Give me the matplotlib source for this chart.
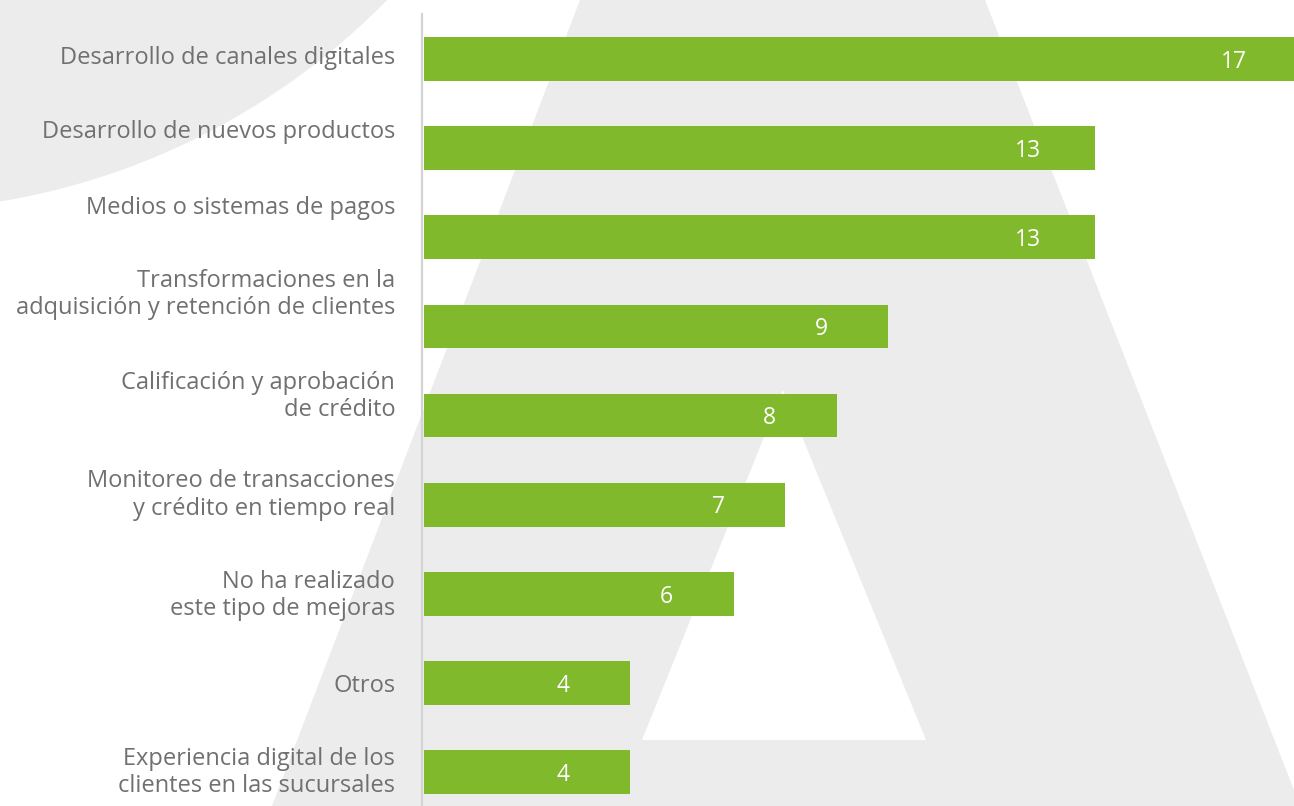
"""Horizontal bar chart: mejoras realizadas por las entidades."""

import matplotlib.pyplot as plt
from matplotlib.patches import Circle, Polygon

# data
categories = [
    "Desarrollo de canales digitales",
    "Desarrollo de nuevos productos",
    "Medios o sistemas de pagos",
    "Transformaciones en la\nadquisición y retención de clientes",
    "Calificación y aprobación\nde crédito",
    "Monitoreo de transacciones\ny crédito en tiempo real",
    "No ha realizado\neste tipo de mejoras",
    "Otros",
    "Experiencia digital de los\nclientes en las sucursales",
]
values = [17, 13, 13, 9, 8, 7, 6, 4, 4]

# vertical nudges of the category labels (in bar slots)
label_offsets = [-0.01, -0.18, -0.33, -0.36, -0.21, -0.11, 0.02, 0.03, 0.0]

GREEN = "#80b92b"
BG_GRAY = "#ececec"
TEXT_GRAY = "#707070"
W, H = 1294, 806

plt.rcParams["font.family"] = ["Open Sans", "DejaVu Sans"]

fig = plt.figure(figsize=(W / 100, H / 100), dpi=100)
fig.patch.set_facecolor("white")

# background decoration in pixel space (y down): big circle and "A" shape
bg = fig.add_axes([0, 0, 1, 1], zorder=0)
bg.set_xlim(0, W)
bg.set_ylim(H, 0)
bg.axis("off")
bg.add_patch(Circle((-115, -492), 703, facecolor=BG_GRAY, edgecolor="none"))
bg.add_patch(Polygon([(580, 0), (985, 0), (1294, 790), (1294, 806), (272, 806)],
                     closed=True, facecolor=BG_GRAY, edgecolor="none"))
bg.add_patch(Polygon([(783, 390), (926, 740), (642, 740)], closed=True,
                     facecolor="white", edgecolor="none"))

ax = fig.add_axes([422 / W, 0, 1 - 422 / W, 1 - 14 / H], zorder=1)
ax.patch.set_alpha(0)

ypos = list(range(len(values)))
ax.barh(ypos, values, height=0.49, color=GREEN, zorder=3)

ax.set_xlim(-0.04, 16.86)
ax.set_ylim(8.38, -0.505)

for y, v, cat, off in zip(ypos, values, categories, label_offsets):
    ax.text(v - 1.3, y + 0.03, str(v), color="white", fontsize=16.5,
            ha="center", va="center", zorder=4, clip_on=False)
    ax.text(-0.56, y + off, cat, color=TEXT_GRAY, fontsize=17, ha="right",
            va="center", linespacing=1.18, clip_on=False)

ax.set_xticks([])
ax.set_yticks([])
for side in ["top", "right", "bottom"]:
    ax.spines[side].set_visible(False)
ax.spines["left"].set_color("#d4d4d4")
ax.spines["left"].set_linewidth(1.6)

fig.savefig("out.png", dpi=100)
